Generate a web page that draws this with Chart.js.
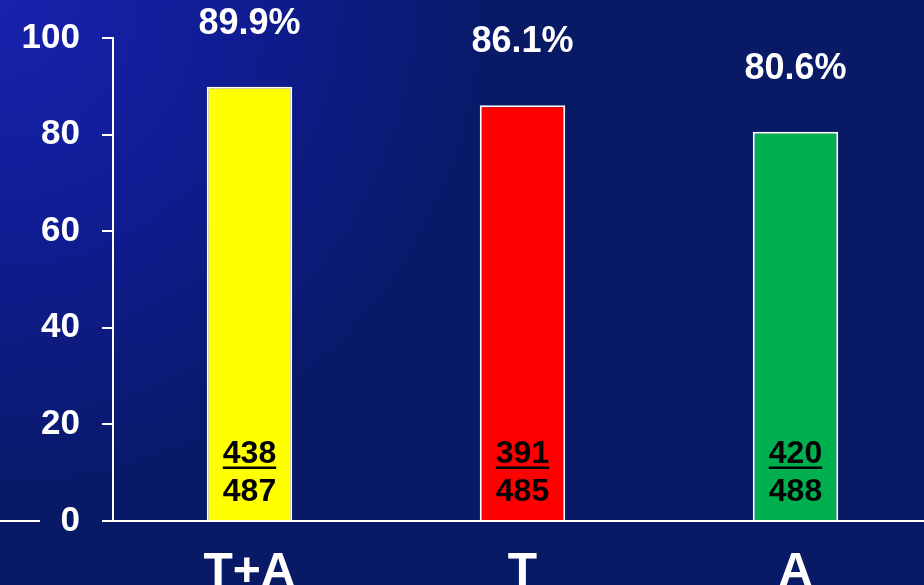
<!DOCTYPE html>
<html>
<head>
<meta charset="utf-8">
<script src="https://cdn.jsdelivr.net/npm/chart.js@4"></script>
<style>
  html, body { margin: 0; padding: 0; overflow: hidden; background: #081966; }
  #wrap { width: 924px; height: 585px; overflow: hidden; }
  canvas { display: block; }
</style>
</head>
<body>
<div id="wrap"><canvas id="chart" width="932" height="585"></canvas></div>
<script>
var categories = ['T+A', 'T', 'A'];
var percents = [89.9, 86.1, 80.6];
var numerators = [438, 391, 420];
var denominators = [487, 485, 488];
var yTicks = [0, 20, 40, 60, 80, 100];

var FONT = '"Liberation Sans", Arial, sans-serif';

// slide background + the short stub of axis line on the far left
var backdrop = {
  id: 'backdrop',
  beforeDraw: function(chart) {
    var ctx = chart.ctx;
    var g = ctx.createRadialGradient(0, 0, 0, 0, 0, 680);
    g.addColorStop(0, '#1722ae');
    g.addColorStop(0.35, '#101c92');
    g.addColorStop(0.75, '#081966');
    g.addColorStop(1, '#081966');
    ctx.save();
    ctx.fillStyle = g;
    ctx.fillRect(0, 0, chart.width, chart.height);
    ctx.restore();
  },
  afterDraw: function(chart) {
    var ctx = chart.ctx;
    var y0 = chart.scales.y.getPixelForValue(0);
    ctx.save();
    ctx.strokeStyle = '#ffffff';
    ctx.lineWidth = 2;
    ctx.beginPath();
    ctx.moveTo(0, y0);
    ctx.lineTo(40, y0);
    ctx.stroke();
    ctx.restore();
  }
};

// percent above bars, fraction inside bars
var barText = {
  id: 'barText',
  afterDatasetsDraw: function(chart) {
    var ctx = chart.ctx;
    var meta = chart.getDatasetMeta(0);
    var y0 = chart.scales.y.getPixelForValue(0);
    ctx.save();
    ctx.textAlign = 'center';
    ctx.textBaseline = 'middle';
    meta.data.forEach(function(bar, i) {
      ctx.fillStyle = '#ffffff';
      ctx.font = 'bold 36px ' + FONT;
      ctx.fillText(percents[i].toFixed(1) + '%', bar.x, bar.y - 63);

      ctx.fillStyle = '#000000';
      ctx.font = 'bold 32px ' + FONT;
      var num = String(numerators[i]);
      ctx.fillText(num, bar.x, y0 - 67);
      var w = ctx.measureText(num).width;
      ctx.fillRect(bar.x - w / 2, y0 - 54.5, w, 2.5);
      ctx.fillText(String(denominators[i]), bar.x, y0 - 29);
    });
    ctx.restore();
  }
};

var ctx = document.getElementById('chart').getContext('2d');
var chart = new Chart(ctx, {
  type: 'bar',
  data: {
    labels: categories,
    datasets: [{
      data: percents,
      backgroundColor: ['#ffff00', '#ff0000', '#00b050'],
      borderColor: '#ffffff',
      borderWidth: 2,
      barPercentage: 0.313,
      categoryPercentage: 1
    }]
  },
  options: {
    responsive: false,
    animation: false,
    layout: { padding: { top: 38, right: 0, left: 0, bottom: 0 } },
    plugins: {
      legend: { display: false },
      tooltip: { enabled: false }
    },
    scales: {
      x: {
        grid: { display: false },
        border: { display: true, color: '#ffffff', width: 2 },
        ticks: {
          color: '#ffffff',
          padding: 15,
          font: { family: FONT, size: 48, weight: 'bold' }
        },
        afterFit: function(scale) { scale.height = 64; }
      },
      y: {
        min: 0,
        max: 100,
        afterBuildTicks: function(scale) {
          scale.ticks = yTicks.map(function(v) { return { value: v }; });
        },
        grid: {
          display: true,
          drawOnChartArea: false,
          drawTicks: true,
          tickLength: 11,
          color: '#ffffff',
          lineWidth: 2
        },
        border: { display: true, color: '#ffffff', width: 2 },
        ticks: {
          color: '#ffffff',
          padding: 22,
          font: { family: FONT, size: 35, weight: 'bold' }
        },
        afterFit: function(scale) {
          scale.width = 113;
          scale.paddingTop = 0;
          scale.paddingBottom = 0;
        }
      }
    }
  },
  plugins: [backdrop, barText]
});
</script>
</body>
</html>
